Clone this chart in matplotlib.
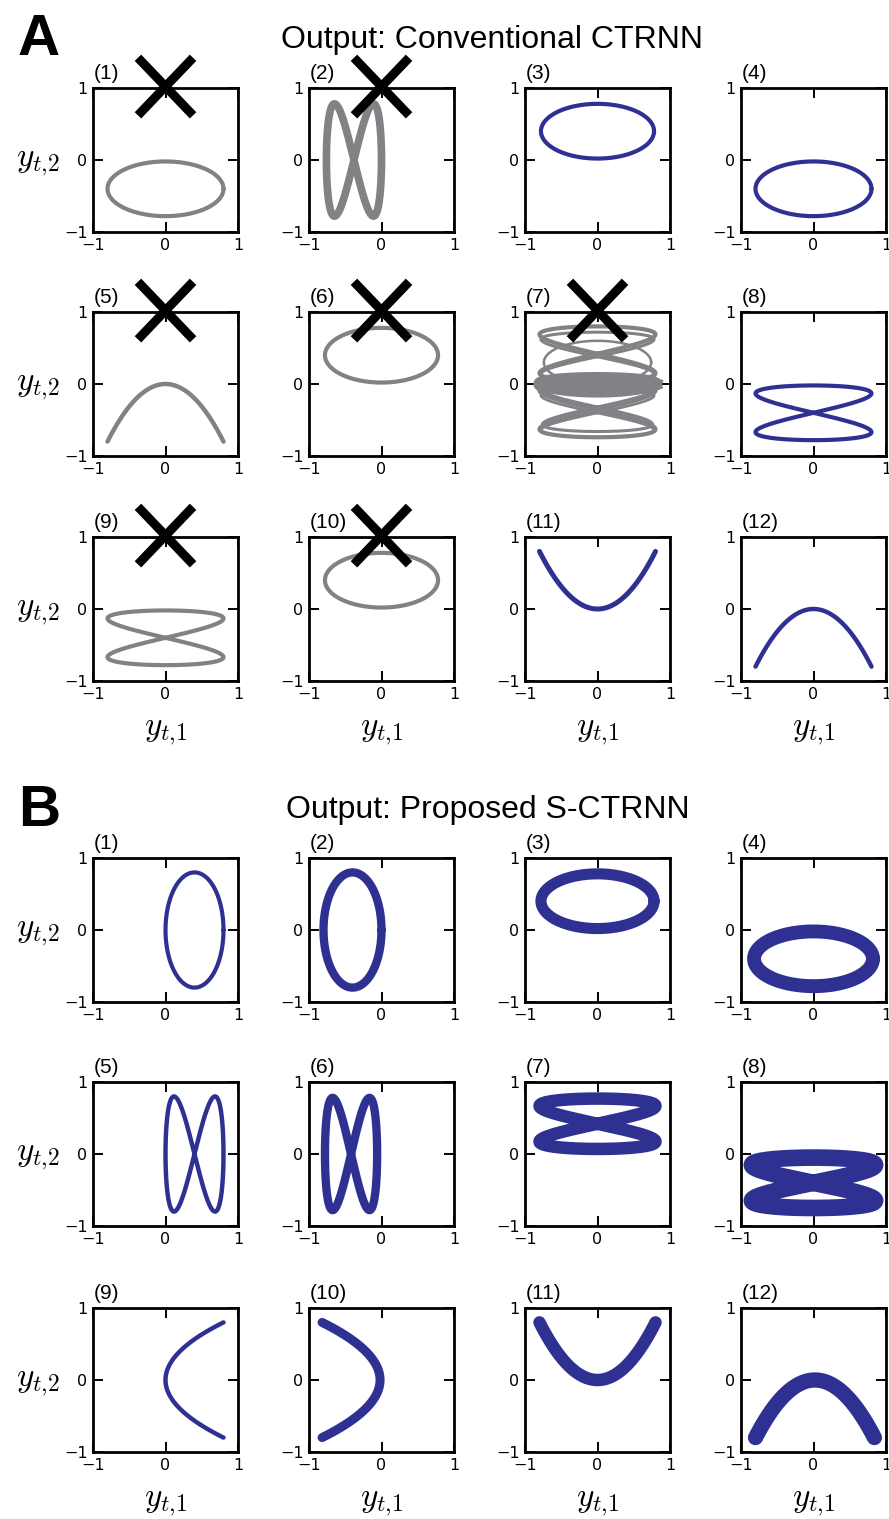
import numpy as np
import matplotlib
matplotlib.use("Agg")
import matplotlib.pyplot as plt

plt.rcParams['mathtext.fontset'] = 'cm'

# ---------------- data ----------------
# Panel A: Conventional CTRNN
kind_A   = ['ellipse', 'fig8v', 'ellipse', 'ellipse', 'parab_y', 'ellipse',
            'mixed', 'fig8h', 'fig8h', 'ellipse', 'parab_y', 'parab_y']
cx_A     = [0.0, -0.38, 0.0, 0.0, 0.0, 0.0, 0.0, 0.0, 0.0, 0.0, 0.0, 0.0]
cy_A     = [-0.40, 0.0, 0.40, -0.40, 0.0, 0.40, 0.0, -0.40, -0.40, 0.40, 0.0, 0.0]
ax_A     = [0.80, 0.38, 0.78, 0.80, 0.80, 0.78, 0.80, 0.80, 0.80, 0.78, 0.80, 0.80]
ay_A     = [0.38, 0.78, 0.38, 0.38, -0.80, 0.38, 0.40, 0.38, 0.38, 0.38, 0.80, -0.80]
lw_A     = [3.0, 5.5, 3.0, 3.0, 3.2, 3.0, 2.4, 3.0, 3.0, 3.0, 3.6, 3.2]
failed_A = [True, True, False, False, True, True, True, False, True, True, False, False]

# Panel A(7): a tangle of several figure-eights and a flat loop
mix_kind = ['fig8h', 'fig8h', 'fig8h', 'fig8h', 'fig8h', 'ellipse', 'ellipse', 'ellipse']
mix_cy   = [0.42, 0.38, -0.36, -0.32, -0.40, 0.0, -0.02, 0.30]
mix_ax   = [0.80, 0.78, 0.80, 0.76, 0.78, 0.80, 0.78, 0.74]
mix_ay   = [0.38, 0.34, 0.38, 0.34, 0.34, 0.08, 0.14, 0.30]
mix_lw   = [3.0, 2.2, 3.0, 2.2, 2.0, 9.0, 3.0, 1.8]

# Panel B: Proposed S-CTRNN
kind_B = ['ellipse', 'ellipse', 'ellipse', 'ellipse', 'fig8v', 'fig8v',
          'fig8h', 'fig8h', 'parab_x', 'parab_x', 'parab_y', 'parab_y']
cx_B   = [0.40, -0.40, 0.0, 0.0, 0.40, -0.42, 0.0, 0.0, 0.0, -0.02, 0.0, 0.02]
cy_B   = [0.0, 0.0, 0.40, -0.40, 0.0, 0.0, 0.42, -0.40, 0.0, 0.0, 0.0, 0.0]
ax_B   = [0.40, 0.40, 0.78, 0.82, 0.40, 0.36, 0.80, 0.85, 0.80, -0.80, 0.80, 0.82]
ay_B   = [0.80, 0.80, 0.38, 0.38, 0.80, 0.78, 0.35, 0.35, 0.80, 0.80, 0.80, -0.80]
lw_B   = [3.0, 6.0, 8.0, 10.0, 3.2, 6.0, 9.0, 12.0, 3.2, 6.5, 9.0, 11.0]

panel_titles = ['(%d)' % (i + 1) for i in range(12)]
tick_vals = [-1, 0, 1]
tick_labels = ['\u22121', '0', '1']

BLUE = '#2e3192'
GRAY = '#818285'

W, H = 889, 1519
fig = plt.figure(figsize=(W / 100, H / 100), dpi=100)

col_left = [93, 309, 525, 741]
row_top_A = [88, 312, 537]
row_top_B = [858, 1082, 1308]
AW, AH = 145, 144


def fx(x):
    return x / W


def fy(y):
    return 1 - y / H


def curve(kind, cx, cy, ax_, ay_):
    t = np.linspace(0, 2 * np.pi, 241)
    if kind == 'ellipse':
        return cx + ax_ * np.cos(t), cy + ay_ * np.sin(t)
    if kind == 'fig8v':
        return cx + ax_ * np.sin(t), cy + ay_ * np.sin(2 * t)
    if kind == 'fig8h':
        return cx + ax_ * np.sin(2 * t), cy + ay_ * np.sin(t)
    s = np.linspace(-1, 1, 121)
    if kind == 'parab_y':
        return cx + ax_ * s, cy + ay_ * s ** 2
    if kind == 'parab_x':
        return cx + ax_ * s ** 2, cy + ay_ * s
    raise ValueError(kind)


def make_axes(left, top):
    a = fig.add_axes([fx(left), fy(top + AH), AW / W, AH / H])
    a.set_xlim(-1, 1)
    a.set_ylim(-1, 1)
    a.set_xticks(tick_vals)
    a.set_yticks(tick_vals)
    a.set_xticklabels(tick_labels)
    a.set_yticklabels(tick_labels)
    a.tick_params(direction='in', length=7, width=1.4, top=True, right=True,
                  labelsize=11.5, pad=4)
    for sp in a.spines.values():
        sp.set_linewidth(2.0)
    return a


def draw_cross(a):
    a.plot([-0.38, 0.38], [1.42, 0.62], color='black', lw=6.5,
           solid_capstyle='butt', clip_on=False, zorder=5)
    a.plot([-0.38, 0.38], [0.62, 1.42], color='black', lw=6.5,
           solid_capstyle='butt', clip_on=False, zorder=5)


def build(row_tops, kinds, cxs, cys, axs, ays, lws, failed):
    for i in range(12):
        r, c = divmod(i, 4)
        a = make_axes(col_left[c], row_tops[r])
        col = GRAY if (failed is not None and failed[i]) else BLUE
        if kinds[i] == 'mixed':
            for k in range(len(mix_kind)):
                x, y = curve(mix_kind[k], 0.0, mix_cy[k], mix_ax[k], mix_ay[k])
                a.plot(x, y, color=col, lw=mix_lw[k], solid_joinstyle='round')
        else:
            x, y = curve(kinds[i], cxs[i], cys[i], axs[i], ays[i])
            a.plot(x, y, color=col, lw=lws[i], solid_joinstyle='round',
                   solid_capstyle='round')
        if failed is not None and failed[i]:
            draw_cross(a)
        fig.text(fx(col_left[c] + 1), fy(row_tops[r] - 9), panel_titles[i],
                 fontsize=15, family='Liberation Sans', ha='left', va='baseline')
        if c == 0:
            fig.text(fx(60), fy(row_tops[r] + AH / 2 + 6), r'$y_{t{,}2}$',
                     fontsize=24, ha='right', va='baseline')
        if r == 2:
            fig.text(fx(col_left[c] + AW / 2), fy(row_tops[r] + AH + 54), r'$y_{t{,}1}$',
                     fontsize=24, ha='center', va='baseline')


build(row_top_A, kind_A, cx_A, cy_A, ax_A, ay_A, lw_A, failed_A)
build(row_top_B, kind_B, cx_B, cy_B, ax_B, ay_B, lw_B, None)

fig.text(fx(18), fy(55), 'A', fontsize=42, fontweight='bold',
         family='Liberation Sans', ha='left', va='baseline')
fig.text(fx(18), fy(826), 'B', fontsize=42, fontweight='bold',
         family='Liberation Sans', ha='left', va='baseline')
fig.text(fx(492), fy(48), 'Output: Conventional CTRNN', fontsize=23,
         family='Liberation Sans', ha='center', va='baseline')
fig.text(fx(488), fy(818), 'Output: Proposed S-CTRNN', fontsize=23,
         family='Liberation Sans', ha='center', va='baseline')

fig.savefig('out.png', dpi=100)
